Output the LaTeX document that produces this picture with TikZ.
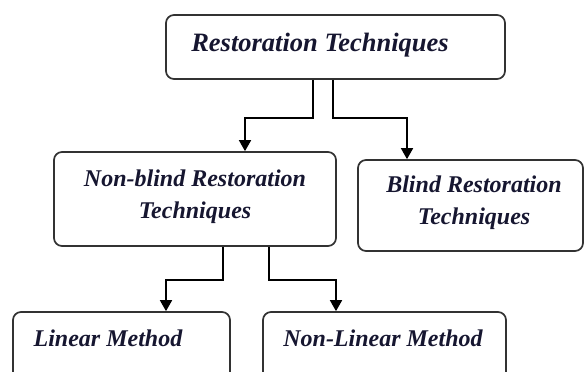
\documentclass[tikz,border=0pt]{standalone}
\usepackage{fontspec}
\setmainfont{Liberation Serif}
\usetikzlibrary{arrows.meta}
\definecolor{txt}{RGB}{22,22,48}
\definecolor{boxline}{RGB}{50,50,50}
\begin{document}
\begin{tikzpicture}[x=1pt,y=-1pt,
  box/.style={draw=boxline,line width=1.7pt,rounded corners=8pt,minimum width=#1,inner sep=0pt},
  lbl/.style={text=txt,font=\fontsize{24}{32}\selectfont\bfseries\itshape,align=center,inner sep=0pt},
  conn/.style={draw=black,line width=1.7pt,-{Triangle[length=11pt,width=12pt]}}]
\useasboundingbox (0,0) rectangle (584,372);
% boxes
\node[box=339pt,minimum height=64pt] (top) at (335.5,47) {};
\node[box=282pt,minimum height=94pt] (nb) at (195,199) {};
\node[box=225pt,minimum height=91pt] (bl) at (470.5,205.5) {};
\node[box=217pt,minimum height=80pt] (lin) at (121.5,352) {};
\node[box=243pt,minimum height=80pt] (nlin) at (384.5,352) {};
% texts
\node[lbl,font=\fontsize{26.5}{32}\selectfont\bfseries\itshape] (ttop) at (320,45) {Restoration Techniques};
\node[lbl] (tnb) at (195,197) {Non-blind Restoration\\Techniques};
\node[lbl] (tbl) at (474,203) {Blind Restoration\\Techniques};
\node[lbl] (tlin) at (108,338) {Linear Method};
\node[lbl] (tnlin) at (383,338) {Non-Linear Method};
% connectors
\draw[conn] ([xshift=-22.5pt]top.south) -- ++(0,38) -| ([xshift=50pt]nb.north);
\draw[conn] ([xshift=-2.5pt]top.south) -- ++(0,38) -| ([xshift=-63.5pt]bl.north);
\draw[conn] ([xshift=28pt]nb.south) -- ++(0,33) -| ([xshift=44.5pt]lin.north);
\draw[conn] ([xshift=74pt]nb.south) -- ++(0,33) -| ([xshift=-48.5pt]nlin.north);
\end{tikzpicture}
\end{document}
